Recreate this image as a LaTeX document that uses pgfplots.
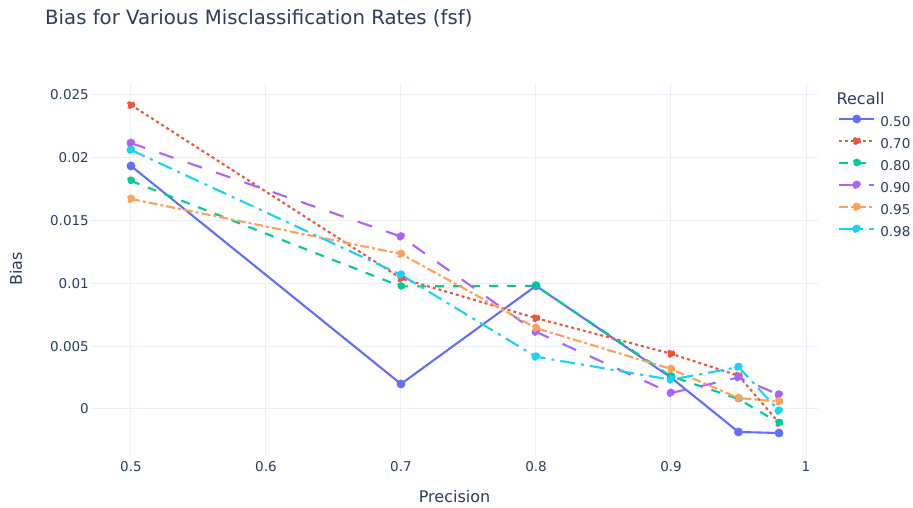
\documentclass[border=0pt]{standalone}
\usepackage{pgfplots}
\pgfplotsset{compat=1.18}
\usepackage{fontspec}
\setmainfont{DejaVu Sans}
\definecolor{txt}{HTML}{2A3F5F}
\definecolor{gridc}{HTML}{EBF0F8}
\definecolor{c1}{HTML}{636EFA}
\definecolor{c2}{HTML}{EF553B}
\definecolor{c3}{HTML}{00CC96}
\definecolor{c4}{HTML}{AB63FA}
\definecolor{c5}{HTML}{FFA15A}
\definecolor{c6}{HTML}{19D3F3}
\begin{document}
\begin{tikzpicture}[x=1bp,y=1bp]
\path[use as bounding box,fill=white] (0,0) rectangle (913,508);
\node[anchor=base west,text=txt,font=\fontsize{19.7bp}{23bp}\selectfont,inner sep=0pt] at (45,483.7) {Bias for Various Misclassification Rates (fsf)};
\node[anchor=west,text=txt,font=\fontsize{16bp}{19bp}\selectfont,inner sep=0pt] at (836.5,409) {Recall};
\begin{axis}[
  at={(91bp,53bp)}, anchor=south west,
  width=727bp, height=372bp, scale only axis,
  xmin=0.4704, xmax=1.0089, ymin=-0.00366, ymax=0.02594,
  scaled x ticks=false, scaled y ticks=false,
  xtick={0.5,0.6,0.7,0.8,0.9,1},
  xticklabels={0.5,0.6,0.7,0.8,0.9,1},
  ytick={0,0.005,0.01,0.015,0.02,0.025},
  yticklabels={0,0.005,0.01,0.015,0.02,0.025},
  extra y ticks={0}, extra y tick labels={},
  extra y tick style={grid style={gridc,line width=2bp}},
  grid=major, major grid style={gridc,line width=1bp},
  axis line style={draw=none}, major tick length=0pt,
  tick label style={font=\fontsize{13.5bp}{16bp}\selectfont,text=txt},
  x tick label style={anchor=north,inner sep=0pt,yshift=-6bp},
  y tick label style={anchor=east,inner sep=0pt,xshift=-2bp},
  xlabel={Precision}, ylabel={Bias},
  label style={font=\fontsize{16bp}{19bp}\selectfont,text=txt},
  xlabel style={at={(axis description cs:0.5,-0.1129)},anchor=center},
  ylabel style={at={(axis description cs:-0.1032,0.5)},anchor=center},
  clip=false,
  legend cell align=left,
  legend image code/.code={\draw[mark repeat=2,mark phase=2] plot coordinates {(0bp,4.5bp)(17.5bp,4.5bp)(35bp,4.5bp)};},
  legend style={at={(axis description cs:1.0234,0.918)},anchor=north west,draw=none,fill=none,
    font=\fontsize{13.5bp}{16bp}\selectfont,text=txt,
    nodes={inner sep=0pt,text height=10bp,text depth=3bp},
    row sep=7.7bp, column sep=5bp},
  every axis plot/.append style={line width=2.1bp,mark=*,mark size=3.3bp,mark options={solid,draw=none}},
]
\addplot[c1,solid,mark options={fill=c1}] coordinates {(0.5,0.01934)(0.7,0.00199)(0.8,0.0098)(0.9,0.0025)(0.95,-0.00183)(0.98,-0.00191)};
\addlegendentry{0.50}
\addplot[c2,dash pattern=on 3bp off 3bp,mark options={fill=c2}] coordinates {(0.5,0.02419)(0.7,0.0104)(0.8,0.00723)(0.9,0.0044)(0.95,0.00265)(0.98,-0.0011)};
\addlegendentry{0.70}
\addplot[c3,dash pattern=on 9bp off 9bp,mark options={fill=c3}] coordinates {(0.5,0.01815)(0.7,0.00975)(0.8,0.0098)(0.9,0.0026)(0.95,0.0008)(0.98,-0.00111)};
\addlegendentry{0.80}
\addplot[c4,dash pattern=on 15bp off 15bp,mark options={fill=c4}] coordinates {(0.5,0.02116)(0.7,0.01372)(0.8,0.00614)(0.9,0.00127)(0.95,0.00251)(0.98,0.00114)};
\addlegendentry{0.90}
\addplot[c5,dash pattern=on 9bp off 3bp on 3bp off 3bp,mark options={fill=c5}] coordinates {(0.5,0.01671)(0.7,0.01234)(0.8,0.00644)(0.9,0.00318)(0.95,0.00087)(0.98,0.0006)};
\addlegendentry{0.95}
\addplot[c6,dash pattern=on 15bp off 6bp on 3bp off 6bp,mark options={fill=c6}] coordinates {(0.5,0.02061)(0.7,0.01068)(0.8,0.00416)(0.9,0.00233)(0.95,0.00334)(0.98,-0.00014)};
\addlegendentry{0.98}
\end{axis}
\end{tikzpicture}
\end{document}
